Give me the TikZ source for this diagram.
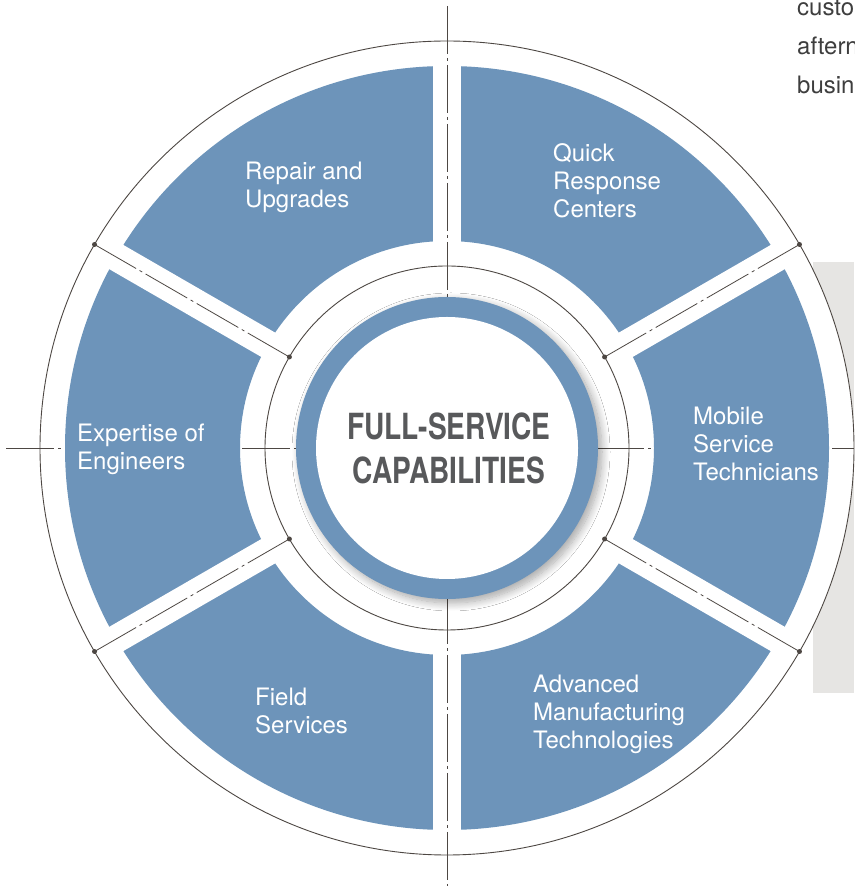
\documentclass[tikz,border=0pt]{standalone}
\usepackage{fontspec}
\setmainfont{TeX Gyre Heros}
\newfontfamily\capsfont[FakeStretch=0.78]{TeX Gyre Heros}
\usetikzlibrary{calc,shadows.blur}
\definecolor{segblue}{HTML}{6D94BA}
\definecolor{rimline}{HTML}{4D4743}
\definecolor{panelgray}{HTML}{E6E5E3}
\definecolor{titlegray}{HTML}{58595B}
\definecolor{bodygray}{HTML}{3E3E3E}

\begin{document}
\begin{tikzpicture}[x=1pt,y=1pt]
  \tikzset{rim/.style={draw=rimline, line width=0.9pt},
           axis/.style={rimline, line width=0.8pt, dash pattern=on 48pt off 4pt on 3pt off 4pt},
           gap/.style={white, line width=28pt},
           pin/.style={circle, fill=rimline, inner sep=0pt, minimum size=5pt},
           seglbl/.style={white, anchor=base west, align=left, inner sep=0pt,
                          font=\fontsize{24}{28}\selectfont},
           bodytxt/.style={bodygray, anchor=base west, align=left, inner sep=0pt,
                           font=\fontsize{24}{39}\selectfont}}
  \useasboundingbox (0,0) rectangle (854,886);
  \coordinate (c) at (447,438);
  % side panel and outer rim
  \fill[panelgray] (813,193) rectangle (854,624);
  \draw[rim, fill=white] (c) circle (407);
  \coordinate (hl) at (6,438);
  \coordinate (hr) at (854,438);
  \draw[axis] (hl) -- (hr);
  % blue ring cut into six parts
  \fill[segblue, even odd rule] (c) circle (382) (c) circle (207);
  \draw[gap] ($(c)+(30:195)$) -- ($(c)+(30:395)$);
  \draw[gap] ($(c)+(90:195)$) -- ($(c)+(90:395)$);
  \draw[gap] ($(c)+(150:195)$) -- ($(c)+(150:395)$);
  \draw[gap] ($(c)+(210:195)$) -- ($(c)+(210:395)$);
  \draw[gap] ($(c)+(270:195)$) -- ($(c)+(270:395)$);
  \draw[gap] ($(c)+(330:195)$) -- ($(c)+(330:395)$);
  \coordinate (vt) at (447,880);
  \coordinate (vb) at (447,0);
  \draw[axis] (vt) -- (vb);
  \node[pin] (in30)  at ($(c)+(30:182)$)  {};
  \node[pin] (out30) at ($(c)+(30:407)$)  {};
  \node[pin] (in150)  at ($(c)+(150:182)$) {};
  \node[pin] (out150) at ($(c)+(150:407)$) {};
  \node[pin] (in210)  at ($(c)+(210:182)$) {};
  \node[pin] (out210) at ($(c)+(210:407)$) {};
  \node[pin] (in330)  at ($(c)+(330:182)$) {};
  \node[pin] (out330) at ($(c)+(330:407)$) {};
  \draw[axis] (in30.center) -- (out30.center);
  \draw[axis] (in150.center) -- (out150.center);
  \draw[axis] (in210.center) -- (out210.center);
  \draw[axis] (in330.center) -- (out330.center);
  \draw[rim] (c) circle (182);
  % hub
  \fill[segblue, blur shadow={shadow xshift=4pt, shadow yshift=-4pt, shadow blur radius=8pt,
        shadow blur steps=12, shadow opacity=35}] (c) circle (151);
  \fill[white] (c) circle (131);
  \node[titlegray, align=center, inner sep=0pt,
        font=\capsfont\bfseries\fontsize{36}{44}\selectfont] (hub) at (449,438)
        {FULL-SERVICE\\CAPABILITIES};
  % labels (anchored on the last line)
  \node[seglbl] (repair) at (245,678) {Repair and\\Upgrades};
  \node[seglbl] (quick) at (553,668) {Quick\\Response\\Centers};
  \node[seglbl] (mobile) at (693,405) {Mobile\\Service\\Technicians};
  \node[seglbl] (amt) at (533,137) {Advanced\\Manufacturing\\Technologies};
  \node[seglbl] (field) at (255,152) {Field\\Services};
  \node[seglbl] (expert) at (77,416) {Expertise of\\Engineers};
  \node[bodytxt] (para) at (797,792) {custo\\aftern\\busin};
\end{tikzpicture}
\end{document}
